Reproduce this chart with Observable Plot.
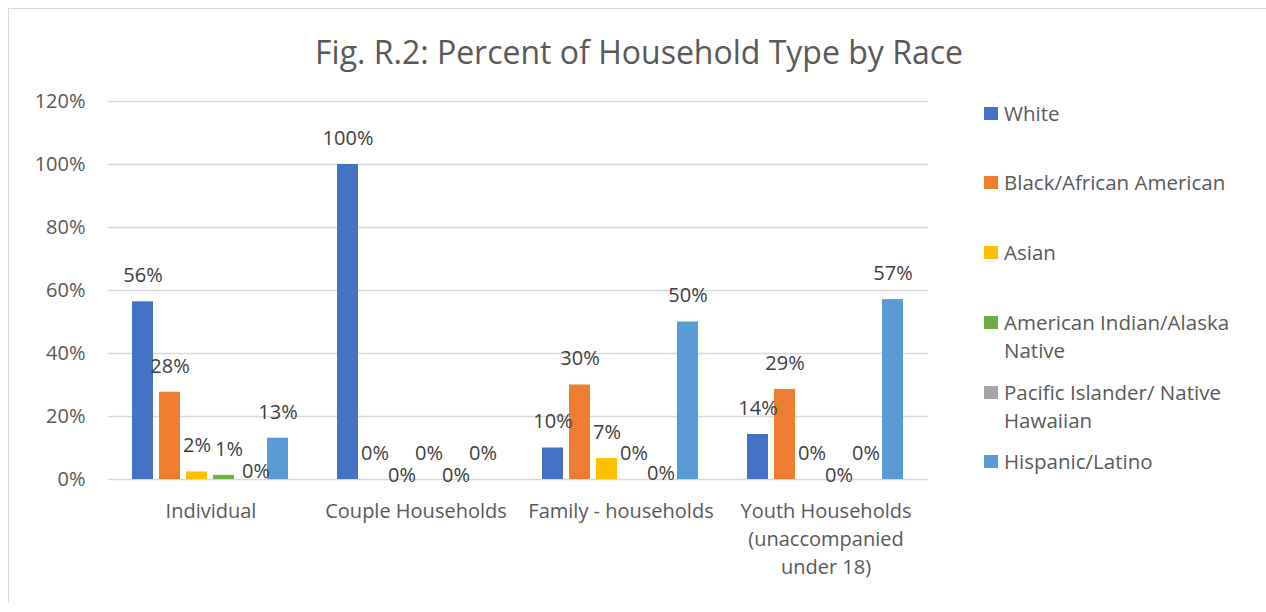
<!DOCTYPE html>
<html>
<head>
<meta charset="utf-8">
<script src="https://cdn.jsdelivr.net/npm/d3@7"></script>
<script src="https://cdn.jsdelivr.net/npm/@observablehq/plot@0.6"></script>
<style>
  html, body { margin: 0; padding: 0; background: #fff; }
  body { font-family: "Open Sans", sans-serif; }
  #wrap { position: relative; width: 1266px; height: 612px; overflow: hidden; }
  #frame { position: absolute; left: 8px; top: 8px; width: 1300px; height: 595px;
           border-left: 1.5px solid #d9d9d9; border-top: 1.5px solid #d9d9d9; box-sizing: border-box; }
  #title { position: absolute; left: 0; width: 1278px; top: 36px; text-align: center;
           font-size: 32px; line-height: 32px; color: #595959; white-space: nowrap; }
  #chart { position: absolute; left: 0; top: 0; }
  .item { position: absolute; left: 984px; display: flex; align-items: flex-start;
          font-size: 20.5px; line-height: 28.5px; color: #595959; }
  .swatch { width: 14px; height: 13px; margin-top: 8px; margin-right: 6px; flex: none; }
  .label { width: 245px; }
</style>
</head>
<body>
<div id="wrap">
  <div id="frame"></div>
  <div id="title">Fig. R.2: Percent of Household Type by Race</div>
  <div id="chart"></div>
</div>
<script>
// Household types (x-axis groups); "\n" marks line breaks in the axis label
const categories = [
  "Individual",
  "Couple Households",
  "Family - households",
  "Youth Households\n(unaccompanied\nunder 18)"
];

// Race series, in legend order
const races = [
  "White",
  "Black/African American",
  "Asian",
  "American Indian/Alaska Native",
  "Pacific Islander/ Native Hawaiian",
  "Hispanic/Latino"
];

const colors = ["#4472C4", "#ED7D31", "#FFC000", "#70AD47", "#A5A5A5", "#5B9BD5"];

// Share of each household type, one array per race (same order as categories)
const white    = [0.564, 1.000, 0.100, 0.143];
const black    = [0.277, 0.000, 0.300, 0.286];
const asian    = [0.024, 0.000, 0.067, 0.000];
const amIndian = [0.013, 0.000, 0.000, 0.000];
const pacific  = [0.000, 0.000, 0.000, 0.000];
const hispanic = [0.131, 0.000, 0.500, 0.571];

const yTicks = [0, 0.2, 0.4, 0.6, 0.8, 1.0, 1.2];

const series = [white, black, asian, amIndian, pacific, hispanic];
const rows = [];
categories.forEach((category, ci) => {
  races.forEach((race, ri) => {
    rows.push({category, race, value: series[ri][ci]});
  });
});

// Labels that sit off their default spot so they don't collide with neighbours
const labelShift = new Map([
  [categories[0] + "|" + races[3], [5, 0]],
  [categories[0] + "|" + races[4], [5, 18]],
  [categories[1] + "|" + races[2], [0, 22]],
  [categories[1] + "|" + races[4], [0, 22]],
  [categories[2] + "|" + races[4], [0, 20]],
  [categories[3] + "|" + races[3], [0, 22]]
]);
const shiftOf = d => labelShift.get(d.category + "|" + d.race) || [0, 0];
const shiftKeys = Array.from(new Set(rows.map(d => shiftOf(d).join(","))));

const pct = d3.format(".0%");

const labelMarks = shiftKeys.map(key => {
  const [dx, dy] = key.split(",").map(Number);
  return Plot.text(rows, {
    filter: d => shiftOf(d).join(",") === key,
    fx: "category",
    x: "race",
    y: "value",
    text: d => pct(d.value),
    dx,
    dy: dy - 26,
    fill: "#404040",
    fontSize: 20
  });
});

const chart = Plot.plot({
  width: 960,
  height: 612,
  marginLeft: 108,
  marginRight: 32,
  marginTop: 101,
  marginBottom: 133,
  style: {fontFamily: "'Open Sans', sans-serif", background: "transparent", overflow: "visible"},
  fx: {domain: categories, padding: 0, axis: null},
  x: {domain: races, axis: null, paddingInner: 0.21, paddingOuter: 0.875},
  y: {domain: [0, 1.2], axis: null},
  color: {domain: races, range: colors},
  marks: [
    Plot.ruleY(yTicks, {stroke: "#d9d9d9", strokeWidth: 1.5}),
    Plot.axisY(yTicks, {
      tickSize: 0, tickPadding: 23, tickFormat: pct,
      fontSize: 20, fill: "#595959", label: null
    }),
    Plot.axisFx({
      anchor: "bottom", tickSize: 0, tickPadding: 19,
      fontSize: 20, lineHeight: 1.4, fill: "#595959", label: null
    }),
    Plot.barY(rows, {fx: "category", x: "race", y: "value", fill: "race"}),
    ...labelMarks
  ]
});
document.getElementById("chart").appendChild(chart);

// Legend on the right, one swatch per race
const wrap = document.getElementById("wrap");
races.forEach((race, i) => {
  const item = document.createElement("div");
  item.className = "item";
  item.style.top = (113 + i * 69.7 - 14.25) + "px";
  const sw = document.createElement("div");
  sw.className = "swatch";
  sw.style.background = colors[i];
  const lab = document.createElement("div");
  lab.className = "label";
  lab.textContent = race;
  item.appendChild(sw);
  item.appendChild(lab);
  wrap.appendChild(item);
});
</script>
</body>
</html>
